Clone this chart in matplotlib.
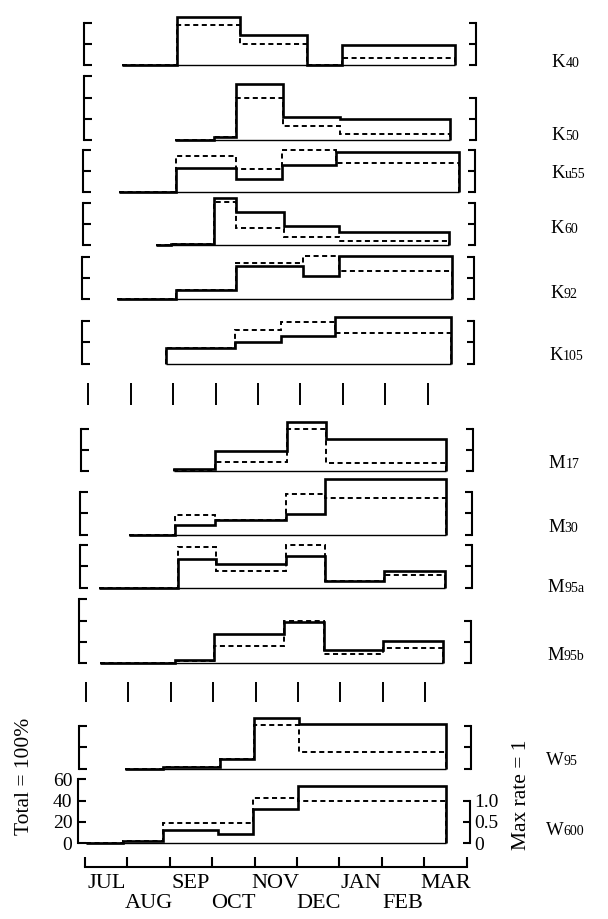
import matplotlib
matplotlib.use("Agg")
import matplotlib.pyplot as plt

plt.rcParams["font.family"] = ["Liberation Serif", "DejaVu Serif"]

# ---- data (months counted from 1 July) ----
panel_letters = ["K", "K", "K", "K", "K", "K", "M", "M", "M", "M", "W", "W"]
panel_suffix = ["40", "50", "u55", "60", "92", "105", "17", "30", "95a", "95b", "95", "600"]

# step edges (months), solid = % of total, dashed = rate (max = 1)
edges = [
    [0.72, 2.03, 3.52, 5.08, 5.92, 8.58],
    [2.00, 2.91, 3.42, 4.54, 5.88, 8.47],
    [0.68, 2.02, 3.43, 4.53, 5.79, 8.70],
    [1.55, 1.91, 2.93, 3.44, 4.58, 5.88, 8.47],
    [0.66, 2.04, 3.46, 5.03, 5.89, 8.56],
    [1.83, 3.44, 4.53, 5.81, 8.54],
    [2.03, 3.00, 4.69, 5.61, 8.44],
    [0.99, 2.07, 3.01, 4.68, 5.60, 8.46],
    [0.29, 2.14, 3.03, 4.69, 5.61, 7.01, 8.45],
    [0.31, 2.08, 3.00, 4.67, 5.61, 6.99, 8.42],
    [0.92, 1.82, 3.16, 3.96, 5.04, 8.50],
    [0.03, 0.89, 1.84, 3.13, 3.96, 5.02, 8.52],
]
total_pct = [
    [0, 45, 28, 0, 19],
    [0, 3, 53, 21.4, 19.5],
    [0, 23, 12.4, 25.8, 38],
    [0, 1.5, 45, 32, 18, 13],
    [0, 8.7, 31, 21.6, 40.5],
    [14.8, 20.3, 25.6, 43.8],
    [2.3, 19, 46.5, 30],
    [0, 9.2, 13.6, 19.6, 52.8],
    [0, 27, 21.8, 29.4, 6.2, 15.2],
    [0, 3, 27.4, 39, 12.4, 21.2],
    [0, 1.5, 9.1, 47.3, 42.3],
    [0, 2, 11.8, 8.2, 32.4, 54],
]
rate = [
    [0, 0.955, 0.50, 0, 0.17],
    [0, 0.07, 0.98, 0.34, 0.15],
    [0, 0.86, 0.54, 0.99, 0.68],
    [0, 0.04, 1.02, 0.41, 0.21, 0.10],
    [0, 0.22, 0.86, 1.02, 0.66],
    [0.37, 0.78, 0.99, 0.73],
    [0.03, 0.22, 0.99, 0.18],
    [0, 0.46, 0.34, 0.96, 0.86],
    [0, 0.95, 0.40, 1.01, 0.155, 0.30],
    [0, 0.04, 0.41, 0.98, 0.22, 0.36],
    [0, 0.04, 0.22, 1.03, 0.39],
    [0, 0.05, 0.47, 0.47, 1.06, 1.00],
]
left_top = [40, 60, 40, 40, 40, 40, 40, 40, 40, 60, 40, 60]

month_names = ["JUL", "AUG", "SEP", "OCT", "NOV", "DEC", "JAN", "FEB", "MAR"]
month_starts = list(range(10))
separator_months = list(range(9))

# ---- layout (pixels) ----
W, H = 608, 919
baseline_px = [65, 140, 192, 245.5, 299, 363.5, 471, 534.5, 587.5, 663, 768.5, 843]
label_px = [67, 140, 178, 233, 298, 360, 468, 532, 592, 660, 765, 835]
separator_rows = [(383, 405), (682, 702)]
PX_MONTH = 42.4
PX_PCT = 1.06
PAD_L = 7
AX_W = 392

fig = plt.figure(figsize=(W / 100, H / 100), dpi=100)


def shift(y):
    return (810 - y) * 0.008


def make_axes(y_top, y_bot):
    s = shift((y_top + y_bot) / 2)
    ax = fig.add_axes([(78 + s) / W, 1 - y_bot / H, AX_W / W, (y_bot - y_top) / H])
    ax.set_xlim(-PAD_L / PX_MONTH, (AX_W - PAD_L) / PX_MONTH)
    ax.patch.set_alpha(0)
    return ax


n = len(edges)
for i in range(n):
    b = baseline_px[i]
    ax = make_axes(b - 74, b + 5)
    ax.set_ylim(-5 / PX_PCT, 74 / PX_PCT)
    e = edges[i]
    ax.hlines(0, e[0], e[-1], color="k", lw=1.0)
    ax.stairs(total_pct[i], e, baseline=0, color="k", lw=1.9, joinstyle="miter")

    ax2 = ax.twinx()
    ax2.set_ylim(-5 / PX_PCT / 40, 74 / PX_PCT / 40)
    ax2.stairs(rate[i], e, baseline=0, color="k", lw=1.4,
               linestyle=(0, (2.6, 1.8)))

    for a in (ax, ax2):
        for sp in ("top", "bottom", "left", "right"):
            a.spines[sp].set_visible(False)
        a.set_xticks([])
    ax.spines["left"].set_visible(True)
    ax.spines["left"].set_bounds(0, left_top[i])
    ax.spines["left"].set_linewidth(1.5)
    ax.set_yticks(range(0, left_top[i] + 1, 20))
    ax.tick_params(axis="y", direction="in", length=6, width=1.5, labelsize=14, pad=4)

    ax2.spines["right"].set_visible(True)
    ax2.spines["right"].set_bounds(0, 1)
    ax2.spines["right"].set_linewidth(1.5)
    ax2.set_yticks([0, 0.5, 1.0])
    ax2.tick_params(axis="y", direction="in", length=5, width=1.5, labelsize=14, pad=3)

    if i == n - 1:
        ax.set_yticklabels([str(v) for v in range(0, left_top[i] + 1, 20)])
        ax2.set_yticklabels(["0", "0.5", "1.0"])
        ax.spines["bottom"].set_visible(True)
        ax.spines["bottom"].set_position(("outward", 13.5))
        ax.spines["bottom"].set_bounds(0, 9)
        ax.spines["bottom"].set_linewidth(1.5)
        ax.set_xticks(month_starts)
        ax.set_xticklabels([])
        ax.set_xticks([m + 0.5 for m in range(9)], minor=True)
        ax.set_xticklabels([nm if k % 2 == 0 else "\n" + nm for k, nm in enumerate(month_names)],
                           minor=True)
        ax.tick_params(axis="x", which="major", direction="in", length=7, width=1.5)
        ax.tick_params(axis="x", which="minor", length=0, labelsize=16, pad=5)
        for lbl in ax.get_xticklabels(minor=True):
            lbl.set_linespacing(1.08)
    else:
        ax.set_yticklabels([])
        ax2.set_yticklabels([])

    # panel name: big letter plus small suffix
    s = shift(label_px[i])
    lx = 546 + s
    fig.text(lx / W, 1 - label_px[i] / H, panel_letters[i], fontsize=13.5,
             ha="left", va="baseline")
    wl = {"K": 13.5, "M": 16.5, "W": 17.5}[panel_letters[i]]
    fig.text((lx + wl) / W, 1 - label_px[i] / H, panel_suffix[i], fontsize=10,
             ha="left", va="baseline")

# separator tick rows
for y0, y1 in separator_rows:
    axs = make_axes(y0, y1)
    axs.set_ylim(0, 1)
    axs.vlines(separator_months, 0, 1, color="k", lw=1.4)
    axs.axis("off")

fig.text(25 / W, 1 - 776 / H, "Total = 100%", rotation=90, fontsize=15.5,
         ha="center", va="center")
fig.text(521 / W, 1 - 795 / H, "Max rate = 1", rotation=90, fontsize=15.5,
         ha="center", va="center")

fig.savefig("out.png", dpi=100)
